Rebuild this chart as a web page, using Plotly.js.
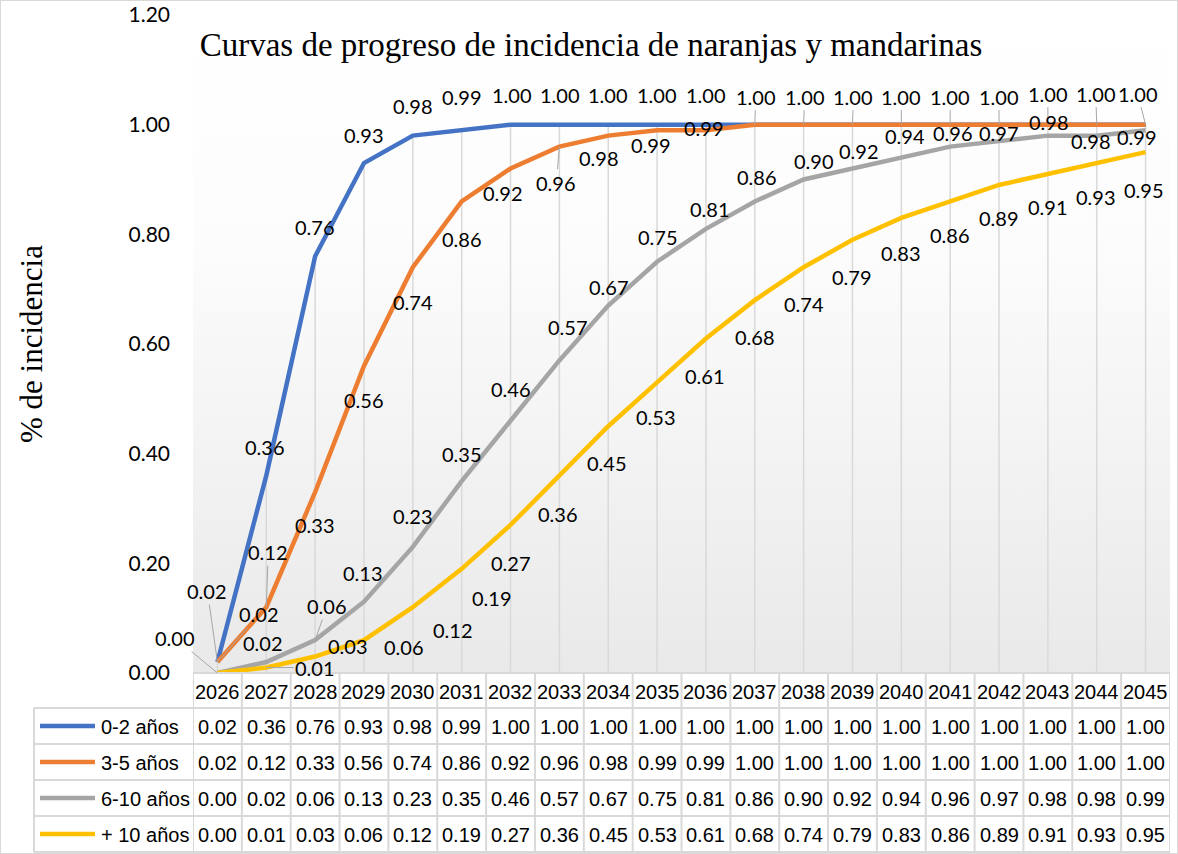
<!DOCTYPE html>
<html>
<head>
<meta charset="utf-8">
<script src="https://cdn.plot.ly/plotly-3.0.1.min.js"></script>
<style>
html,body{margin:0;padding:0;background:#fff;}
#wrap{position:relative;width:1178px;height:854px;}
#chart{position:absolute;left:0;top:0;width:1178px;height:854px;}
#frame{position:absolute;left:0;top:0;width:1178px;height:854px;box-sizing:border-box;border:1px solid #d9d9d9;pointer-events:none;}
</style>
</head>
<body>
<div id="wrap"><div id="chart"></div><div id="frame"></div></div>
<script>
// ---------------- DATA ----------------
const years = ['2026','2027','2028','2029','2030','2031','2032','2033','2034','2035',
               '2036','2037','2038','2039','2040','2041','2042','2043','2044','2045'];
const seriesNames = ['0-2 años', '3-5 años', '6-10 años', '+ 10 años'];
const vals0_2  = [0.02,0.36,0.76,0.93,0.98,0.99,1.00,1.00,1.00,1.00,1.00,1.00,1.00,1.00,1.00,1.00,1.00,1.00,1.00,1.00];
const vals3_5  = [0.02,0.12,0.33,0.56,0.74,0.86,0.92,0.96,0.98,0.99,0.99,1.00,1.00,1.00,1.00,1.00,1.00,1.00,1.00,1.00];
const vals6_10 = [0.00,0.02,0.06,0.13,0.23,0.35,0.46,0.57,0.67,0.75,0.81,0.86,0.90,0.92,0.94,0.96,0.97,0.98,0.98,0.99];
const vals10p  = [0.00,0.01,0.03,0.06,0.12,0.19,0.27,0.36,0.45,0.53,0.61,0.68,0.74,0.79,0.83,0.86,0.89,0.91,0.93,0.95];
const yTickVals = [0, 0.2, 0.4, 0.6, 0.8, 1.0, 1.2];
const chartTitle = 'Curvas de progreso de incidencia de naranjas y mandarinas';
const yTitle = '% de incidencia';

// ---------------- STYLE ----------------
const allSeries = [vals0_2, vals3_5, vals6_10, vals10p];
const colors = ['#4472C4', '#ED7D31', '#A5A5A5', '#FFC000'];
// label offsets in pixels [dx, dy(down), leader?]; null = label not shown
const labelOffsets = [
  [[-10,-71,1],[-1,-29],[0,-29],[0,-28],[0,-30],[0,-33],[1,-30],[1,-30],[0,-30],[0,-30],
   [0,-30],[1,-28,1],[1,-28,1],[1,-28,1],[0,-28,1],[0,-28,1],[0,-28,1],[0,-31,1],[-1,-31,1],[-8,-31,1]],
  [[42,-48,1],[2,-55,1],[0,33],[0,34],[0,35],[0,38],[-8,24],[-3,36,1],[-9,22],[-6,15],
   [-2,-2],null,null,null,null,null,null,null,null,null],
  [[-42,-35,1],[-3,-19],[12,-34,1],[-1,-29],[0,-31],[0,-27],[0,-32],[9,-33],[1,-19],[1,-25],
   [4,-20],[2,-24],[10,-19],[7,-18],[4,-22],[3,-14],[0,-8],[1,-14],[-6,5],[-9,7]],
  [null,[49,0,1],[33,-11],[40,7],[40,23],[30,29],[0,38],[-1,38],[-1,37],[-1,35],
   [-1,37],[0,37],[0,37],[0,37],[0,35],[0,34],[0,33],[0,33],[-1,34],[-2,38]]
];

const W = 1178, H = 854;
const mL = 193, mR = 8, mT = 15, mB = 181;
const plotW = W - mL - mR, plotH = H - mT - mB;
const plotBottom = H - mB;
const py = p => (plotBottom - p) / plotH;     // pixel y -> paper y
const px = p => (p - mL) / plotW;             // pixel x -> paper x

const tableFont = {family: 'Liberation Sans, Arial, sans-serif', size: 20, color: '#000'};
const labelFont = {family: 'Lato, Open Sans, sans-serif', size: 20, color: '#000'};
const borderColor = '#d9d9d9';
const headerTop = 673, headerBottom = 708, rowH = 36;
const tableLeft = 34;

// ---------------- TRACES ----------------
const traces = [];
// drop lines (from highest point of each category down to the axis)
const dropX = [], dropY = [];
years.forEach((yr, i) => {
  const m = Math.max(...allSeries.map(s => s[i]));
  dropX.push(yr, yr, null);
  dropY.push(m, 0, null);
});
traces.push({x: dropX, y: dropY, mode: 'lines', type: 'scatter',
  line: {color: '#d9d9d9', width: 1.5}, hoverinfo: 'skip', showlegend: false});

allSeries.forEach((s, k) => {
  traces.push({x: years, y: s, type: 'scatter', mode: 'lines', name: seriesNames[k],
    line: {color: colors[k], width: 4.5}, showlegend: false});
});

// ---------------- ANNOTATIONS ----------------
const annotations = [];
allSeries.forEach((s, k) => {
  s.forEach((v, i) => {
    const o = labelOffsets[k][i];
    if (!o) return;
    annotations.push({
      x: i, y: v, xref: 'x', yref: 'y', text: v.toFixed(2),
      showarrow: true, ax: o[0], ay: o[1], axref: 'pixel', ayref: 'pixel',
      arrowhead: 0, arrowwidth: 1, standoff: 0, startstandoff: 0,
      arrowcolor: o[2] ? '#a6a6a6' : 'rgba(0,0,0,0)',
      font: labelFont
    });
  });
});

// table header (years)
years.forEach((yr, i) => {
  annotations.push({x: i, xref: 'x', y: py((headerTop + headerBottom) / 2 + 1), yref: 'paper',
    text: yr, showarrow: false, font: tableFont, xanchor: 'center', yanchor: 'middle'});
});
// table rows
allSeries.forEach((s, k) => {
  const cy = py(headerBottom + rowH * k + rowH / 2 + 1);
  annotations.push({x: px(99), xref: 'paper', y: cy, yref: 'paper', text: seriesNames[k],
    showarrow: false, font: tableFont, xanchor: 'left', yanchor: 'middle'});
  s.forEach((v, i) => {
    annotations.push({x: i, xref: 'x', y: cy, yref: 'paper', text: v.toFixed(2),
      showarrow: false, font: tableFont, xanchor: 'center', yanchor: 'middle'});
  });
});

// ---------------- SHAPES (table grid + legend keys) ----------------
const shapes = [];
const gridLine = {color: borderColor, width: 2};
for (let i = 0; i <= years.length; i++) {
  shapes.push({type: 'line', xref: 'x', yref: 'paper', x0: i - 0.5, x1: i - 0.5,
    y0: py(headerTop), y1: py(headerBottom + rowH * 4), line: gridLine, layer: 'above'});
}
shapes.push({type: 'line', xref: 'paper', yref: 'paper', x0: px(tableLeft), x1: px(tableLeft),
  y0: py(headerBottom), y1: py(headerBottom + rowH * 4), line: gridLine});
shapes.push({type: 'line', xref: 'x', yref: 'paper', x0: -0.5, x1: years.length - 0.5,
  y0: py(headerTop), y1: py(headerTop), line: gridLine});
for (let r = 0; r <= 4; r++) {
  const yy = py(headerBottom + rowH * r);
  shapes.push({type: 'line', xref: 'paper', yref: 'paper', x0: px(tableLeft), x1: 1,
    y0: yy, y1: yy, line: gridLine});
}
allSeries.forEach((s, k) => {
  const cy = py(headerBottom + rowH * k + rowH / 2);
  shapes.push({type: 'line', xref: 'paper', yref: 'paper', x0: px(40), x1: px(95),
    y0: cy, y1: cy, line: {color: colors[k], width: 4.5}});
});

// gradient plot background
const gradSvg = "<svg xmlns='http://www.w3.org/2000/svg' width='100' height='100' preserveAspectRatio='none'>" +
  "<defs><linearGradient id='g' x1='0' y1='0' x2='0' y2='1'>" +
  "<stop offset='0' stop-color='#ffffff'/><stop offset='0.35' stop-color='#fcfcfc'/><stop offset='1' stop-color='#e9e9e9'/>" +
  "</linearGradient></defs><rect width='100' height='100' fill='url(#g)'/></svg>";

const layout = {
  width: W, height: H,
  margin: {l: mL, r: mR, t: mT, b: mB, pad: 0},
  paper_bgcolor: '#ffffff',
  plot_bgcolor: 'rgba(0,0,0,0)',
  showlegend: false,
  title: {text: chartTitle, font: {family: 'Liberation Serif, Times New Roman, serif', size: 33, color: '#000'},
    xref: 'container', yref: 'container', x: 591 / W, y: 1 - 44 / H, xanchor: 'center', yanchor: 'middle'},
  xaxis: {type: 'category', range: [-0.5, years.length - 0.5], showgrid: false, zeroline: false,
    showline: false, showticklabels: false, ticks: '', fixedrange: true},
  yaxis: {range: [0, 1.2], tickvals: yTickVals, tickformat: '.2f', showgrid: false, zeroline: false,
    showline: false, ticks: '', ticklabelstandoff: 22,
    tickfont: {family: 'Lato, Open Sans, sans-serif', size: 21, color: '#000'},
    title: {text: yTitle, standoff: 76, font: {family: 'Liberation Serif, Times New Roman, serif', size: 31, color: '#000'}},
    fixedrange: true},
  images: [{source: 'data:image/svg+xml;charset=utf-8,' + encodeURIComponent(gradSvg),
    xref: 'paper', yref: 'paper', x: 0, y: 1, sizex: 1, sizey: 1, sizing: 'stretch',
    xanchor: 'left', yanchor: 'top', layer: 'below'}],
  annotations: annotations,
  shapes: shapes
};

Plotly.newPlot('chart', traces, layout, {staticPlot: true, displayModeBar: false});
</script>
</body>
</html>
